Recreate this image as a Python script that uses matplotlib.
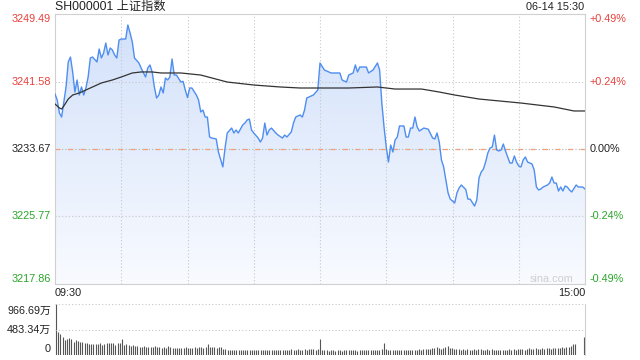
import numpy as np
import matplotlib
matplotlib.use('Agg')
import matplotlib.pyplot as plt
from matplotlib.patches import Polygon
import matplotlib.transforms as mtransforms

plt.rcParams['font.family'] = ['Liberation Sans', 'Noto Sans CJK SC', 'DejaVu Sans']

# ---------------- data ----------------
title = 'SH000001 上证指数'
stamp = '06-14 15:30'
prev_close = 3233.67
price_ticks = [3249.49, 3241.58, 3233.67, 3225.77, 3217.86]
pct_labels = ['+0.49%', '+0.24%', '0.00%', '-0.24%', '-0.49%']
time_labels = ['09:30', '15:00']
vol_max = 966.69
vol_ticks = [966.69, 483.34, 0]
vol_tick_labels = ['966.69万', '483.34万', '0']

price_minutes = [0, 1, 2, 3, 5, 6, 7, 8, 9, 10, 11, 12, 13, 14, 15, 16, 17, 19, 20, 21,
                 22, 23, 24, 25, 26, 27, 28, 29, 30, 32, 33, 34, 35, 36, 38, 39, 41, 42, 43, 44,
                 45, 46, 47, 48, 49, 50, 51, 52, 53, 54, 55, 57, 58, 59, 60, 61, 62, 64, 65, 66,
                 67, 68, 69, 70, 71, 73, 74, 76, 77, 78, 80, 81, 82, 83, 85, 86, 87, 88, 89, 90,
                 92, 93, 94, 95, 96, 97, 98, 100, 101, 103, 104, 105, 107, 108, 109, 111, 112, 113, 114, 116,
                 117, 119, 120, 122, 124, 125, 126, 129, 130, 132, 133, 135, 136, 137, 138, 141, 142, 144, 146, 147,
                 148, 149, 150, 151, 152, 153, 154, 155, 156, 158, 159, 160, 161, 162, 163, 164, 165, 167, 169, 171,
                 172, 173, 174, 175, 176, 177, 178, 179, 181, 182, 183, 184, 186, 187, 188, 190, 191, 192, 193, 194,
                 195, 196, 197, 198, 199, 200, 201, 202, 203, 204, 205, 206, 207, 208, 209, 210, 211, 212, 213, 214,
                 216, 217, 218, 219, 220, 221, 223, 224, 225, 226, 227, 228, 229, 230, 231, 232, 233, 234, 236, 237,
                 239, 240]
price_values = [3240.12, 3239.42, 3237.89, 3237.42, 3240.94, 3243.87, 3244.45, 3242.70, 3240.35, 3241.76,
                3240.00, 3240.94, 3240.00, 3240.82, 3242.11, 3244.34, 3244.45, 3243.87, 3245.39, 3244.34,
                3244.92, 3246.09, 3244.69, 3245.51, 3245.27, 3244.69, 3244.34, 3246.44, 3246.56, 3246.56,
                3248.20, 3247.26, 3246.21, 3244.34, 3243.75, 3243.16, 3242.11, 3243.16, 3243.52, 3242.70,
                3240.94, 3239.65, 3240.00, 3240.94, 3240.24, 3241.99, 3241.76, 3242.11, 3244.22, 3242.34,
                3242.34, 3241.52, 3241.60, 3240.59, 3239.70, 3240.82, 3240.82, 3240.00, 3239.42, 3238.01,
                3238.24, 3237.42, 3237.42, 3235.08, 3234.96, 3234.85, 3233.32, 3231.57, 3233.79, 3235.55,
                3236.13, 3235.55, 3235.90, 3235.55, 3236.49, 3236.72, 3237.07, 3237.19, 3235.90, 3235.55,
                3234.96, 3234.49, 3234.96, 3236.72, 3235.31, 3235.90, 3236.13, 3235.55, 3235.31, 3234.96,
                3235.31, 3235.08, 3235.67, 3236.72, 3237.42, 3237.66, 3237.42, 3238.24, 3239.65, 3239.88,
                3240.00, 3240.59, 3243.75, 3242.93, 3242.70, 3242.58, 3242.58, 3242.58, 3241.76, 3241.52,
                3242.34, 3242.58, 3243.52, 3242.70, 3243.28, 3243.28, 3242.58, 3242.93, 3243.75, 3242.93,
                3239.06, 3236.25, 3233.91, 3232.15, 3234.14, 3233.32, 3234.73, 3235.08, 3236.37, 3236.37,
                3235.08, 3235.08, 3236.13, 3236.13, 3237.42, 3236.25, 3235.78, 3236.13, 3236.00, 3234.96,
                3234.85, 3235.55, 3234.49, 3232.39, 3231.57, 3230.04, 3228.52, 3227.80, 3227.35, 3228.52,
                3229.11, 3229.46, 3228.93, 3227.80, 3227.80, 3226.99, 3227.70, 3230.28, 3230.98, 3231.33,
                3232.15, 3233.21, 3233.79, 3233.91, 3235.31, 3233.56, 3233.44, 3233.56, 3234.26, 3233.44,
                3232.74, 3232.03, 3232.03, 3232.86, 3232.15, 3231.68, 3231.57, 3232.39, 3232.74, 3232.15,
                3231.92, 3231.21, 3229.22, 3228.87, 3228.99, 3229.22, 3229.46, 3229.69, 3230.39, 3229.69,
                3229.69, 3228.75, 3229.22, 3228.75, 3229.34, 3229.22, 3228.87, 3228.64, 3229.46, 3229.22,
                3229.22, 3228.99]

avg_minutes = [0, 2, 3, 4, 6, 8, 11, 13, 17, 21, 26, 30, 35, 39, 44, 48, 57, 66, 78, 90,
               102, 111, 120, 133, 146, 154, 166, 174, 181, 192, 211, 226, 235, 240]
avg_values = [3238.95, 3238.48, 3238.36, 3238.71, 3239.53, 3240.00, 3240.24, 3240.47, 3240.94, 3241.41,
              3241.76, 3242.11, 3242.58, 3242.70, 3242.70, 3242.58, 3242.58, 3242.34, 3241.52, 3241.17,
              3240.94, 3240.82, 3240.82, 3240.82, 3240.94, 3240.70, 3240.70, 3240.35, 3240.00, 3239.53,
              3239.06, 3238.60, 3238.13, 3238.13]

volumes = [966, 440, 390, 350, 285, 300, 330, 300, 255, 285,
           265, 255, 240, 235, 235, 210, 210, 210, 210, 210,
           235, 190, 210, 220, 235, 220, 235, 190, 220, 235,
           300, 190, 210, 190, 170, 190, 170, 170, 160, 160,
           170, 145, 160, 150, 145, 170, 150, 145, 140, 150,
           140, 175, 145, 140, 130, 140, 130, 135, 130, 150,
           140, 135, 140, 145, 140, 150, 145, 130, 150, 210,
           150, 145, 150, 130, 150, 160, 120, 110, 100, 95,
           100, 100, 90, 95, 95, 95, 90, 100, 95, 90,
           95, 95, 90, 90, 95, 90, 95, 100, 90, 95,
           100, 95, 100, 95, 90, 100, 95, 110, 95, 100,
           105, 100, 95, 110, 100, 105, 110, 120, 100, 110,
           310, 95, 90, 95, 85, 90, 95, 80, 90, 95,
           85, 95, 90, 100, 95, 90, 95, 85, 90, 95,
           90, 95, 100, 90, 95, 100, 95, 100, 110, 235,
           120, 100, 95, 100, 95, 90, 100, 95, 100, 90,
           100, 95, 90, 100, 95, 110, 100, 105, 110, 120,
           110, 130, 140, 150, 130, 120, 140, 150, 170, 140,
           130, 120, 110, 105, 100, 110, 100, 105, 95, 100,
           110, 100, 120, 105, 100, 95, 110, 100, 110, 95,
           100, 90, 95, 100, 90, 95, 105, 90, 110, 100,
           110, 105, 120, 100, 115, 130, 110, 120, 125, 110,
           120, 135, 120, 125, 140, 120, 130, 125, 140, 135,
           150, 140, 160, 150, 175, 200, 210, 0, 0, 0,
           345]

# ---------------- style ----------------
RED = '#e8413c'
GREEN = '#2aa52a'
DARK = '#222222'
GRID = '#c8c8c8'
LINE = '#4f8ef0'
FS = 7.8

W, H = 640, 360
fig = plt.figure(figsize=(W / 100, H / 100), dpi=100)
fig.patch.set_facecolor('white')
L, R, T, B = 55, 585, 14, 284
ax = fig.add_axes([L / W, 1 - B / H, (R - L) / W, (B - T) / H])
vax = fig.add_axes([L / W, 1 - 355 / H, (R - L) / W, 51 / H])

ymin, ymax = price_ticks[-1], price_ticks[0]
ax.set_xlim(0, 240)
ax.set_ylim(ymin, ymax)

# gradient fill below the price line
verts = [(price_minutes[0], ymin)] + list(zip(price_minutes, price_values)) + [(price_minutes[-1], ymin)]
poly = Polygon(verts, closed=True, facecolor='none', edgecolor='none', transform=ax.transData)
ax.add_patch(poly)
g = np.linspace(0, 1, 256)[:, None, None]
top_c = np.array([0.82, 0.88, 0.98])
bot_c = np.array([0.975, 0.982, 1.0])
img = top_c * (1 - g) + bot_c * g
im = ax.imshow(img, extent=(0, 240, ymin, ymax), origin='upper', aspect='auto', zorder=1)
im.set_clip_path(poly)

# grid
for m in range(30, 240, 30):
    ax.axvline(m, color=GRID, lw=0.8, ls=(0, (1, 2)), zorder=2)
for v in (price_ticks[1], price_ticks[3]):
    ax.axhline(v, color=GRID, lw=0.8, ls=(0, (1, 2)), zorder=2)
ax.axhline(prev_close, color='#b0b0b0', lw=0.8, ls=(0, (1, 2)), zorder=2)
ax.axhline(prev_close, color='#f0a07a', lw=0.9, ls=(0, (4, 6)), zorder=2)

ax.plot(price_minutes, price_values, color=LINE, lw=1.0, zorder=4)
ax.plot(avg_minutes, avg_values, color='#333333', lw=0.9, zorder=5)

ax.set_xticks([]); ax.set_yticks([])
for s in ax.spines.values():
    s.set_color('#d0d0d0'); s.set_linewidth(0.8)

# price labels
colors = [RED, RED, DARK, GREEN, GREEN]
vas = ['top', 'center', 'center', 'center', 'bottom']
trans_l = mtransforms.blended_transform_factory(ax.transAxes, ax.transData)
off_l = mtransforms.ScaledTranslation(-4 / 100, 0, fig.dpi_scale_trans)
off_r = mtransforms.ScaledTranslation(5 / 100, 0, fig.dpi_scale_trans)
for v, p, c, va in zip(price_ticks, pct_labels, colors, vas):
    ax.text(0, v, f'{v:.2f}', transform=trans_l + off_l, ha='right', va=va, color=c, fontsize=FS)
    ax.text(1, v, p, transform=trans_l + off_r, ha='left', va=va, color=c, fontsize=FS)

ax.text((573 - L) / (R - L), (284 - 279) / (B - T), 'sina.com', transform=ax.transAxes,
        ha='right', va='center', color='#cfcfcf', fontsize=FS, zorder=6)

fig.text(L / W, 1 - 7 / H, title, ha='left', va='center', fontsize=8.8, color=DARK)
fig.text(584 / W, 1 - 7 / H, stamp, ha='right', va='center', fontsize=FS, color=DARK)
fig.text(L / W, 1 - 293 / H, time_labels[0], ha='left', va='center', fontsize=FS, color=DARK)
fig.text(R / W, 1 - 293 / H, time_labels[1], ha='right', va='center', fontsize=FS, color=DARK)

# volume panel
mins = np.arange(len(volumes))
vax.vlines(mins, 0, volumes, color='#555555', lw=0.8)
vax.set_xlim(-0.5, 240.5)
vax.set_ylim(0, vol_max)
for v in vol_ticks[:2]:
    vax.axhline(v, color=GRID, lw=0.8, ls=(0, (1, 2)))
vax.set_xticks([]); vax.set_yticks([])
for k, s in vax.spines.items():
    s.set_visible(k == 'right')
    s.set_color('#d0d0d0'); s.set_linewidth(0.8)
vol_y = [311, 330, 349]
for lab, yy in zip(vol_tick_labels, vol_y):
    fig.text(51 / W, 1 - yy / H, lab, ha='right', va='center', fontsize=FS, color=DARK)

fig.savefig('out.png', dpi=100)
